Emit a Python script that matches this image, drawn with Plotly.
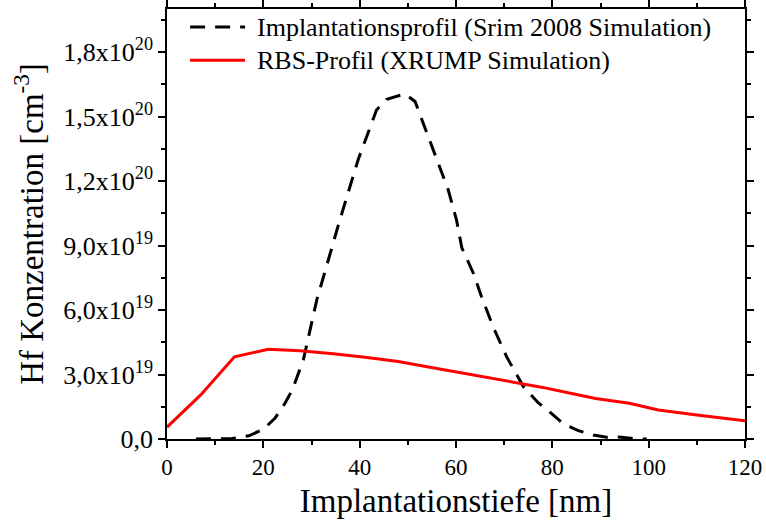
import plotly.graph_objects as go

# Implantation profile (SRIM 2008 simulation): depth [nm], Hf concentration [cm^-3]
srim_depth = [6, 10, 13.5, 17, 20, 22.4, 24.5, 26, 28.3, 31.1, 35.9, 39.7, 43.5, 45.6,
              49.4, 51.5, 55.3, 58.4, 60.1, 61.2, 63.6, 65.3, 67.7, 70.5, 74, 77, 79.5,
              82.3, 85.4, 88.5, 91.3, 93, 94.4, 97.5, 99.6]
srim_conc = [0, 0, 0.02e19, 0.15e19, 0.45e19, 0.96e19, 1.66e19, 2.28e19, 3.67e19, 6.47e19,
             1.02e20, 1.30e20, 1.53e20, 1.58e20, 1.605e20, 1.57e20, 1.344e20, 1.158e20,
             1.019e20, 0.89e20, 0.771e20, 0.662e20, 0.522e20, 0.383e20, 0.243e20, 0.17e20,
             0.125e20, 0.07e20, 0.039e20, 0.019e20, 0.008e20, 0.01e20, 0.008e20, 0.001e20, 0]

# RBS profile (XRUMP simulation)
rbs_depth = [0, 7, 14, 21, 27.6, 34.5, 41.1, 48, 54, 61, 67, 73.3, 78, 84, 89, 96, 102, 110, 120]
rbs_conc = [0.55e19, 2.05e19, 3.82e19, 4.17e19, 4.1e19, 3.97e19, 3.8e19, 3.6e19, 3.36e19,
            3.08e19, 2.83e19, 2.59e19, 2.4e19, 2.12e19, 1.88e19, 1.66e19, 1.35e19, 1.12e19,
            0.85e19]

y_tickvals = [0, 3e19, 6e19, 9e19, 1.2e20, 1.5e20, 1.8e20]
y_ticktext = ["0,0", "3,0x10<sup>19</sup>", "6,0x10<sup>19</sup>", "9,0x10<sup>19</sup>",
              "1,2x10<sup>20</sup>", "1,5x10<sup>20</sup>", "1,8x10<sup>20</sup>"]
x_tickvals = [0, 20, 40, 60, 80, 100, 120]

series_names = ["Implantationsprofil (Srim 2008 Simulation)", "RBS-Profil (XRUMP Simulation)"]
series_lines = [dict(color="black", width=3, dash="15px,10px"),
                dict(color="#ff0000", width=3)]

FONT = "Times New Roman, Liberation Serif, serif"

fig = go.Figure()
fig.add_trace(go.Scatter(x=srim_depth, y=srim_conc, mode="lines",
                         name=series_names[0], line=series_lines[0]))
fig.add_trace(go.Scatter(x=rbs_depth, y=rbs_conc, mode="lines",
                         name=series_names[1], line=series_lines[1]))

axis_common = dict(
    showline=True, linecolor="black", linewidth=1.5, mirror="ticks",
    ticks="outside", ticklen=7, tickwidth=1.5, tickcolor="black",
    showgrid=False, zeroline=False, automargin=False,
)

fig.update_xaxes(
    range=[0, 120], tickvals=x_tickvals,
    tickfont=dict(family=FONT, size=23, color="black"),
    title=dict(text="Implantationstiefe [nm]", font=dict(family=FONT, size=33, color="black"),
               standoff=10),
    minor=dict(ticks="outside", ticklen=4, tickwidth=1.5, tickcolor="black", dtick=10, tick0=0),
    **axis_common,
)
fig.update_yaxes(
    range=[0, 2.0e20], tickvals=y_tickvals, ticktext=y_ticktext,
    tickfont=dict(family=FONT, size=26, color="black"),
    title=dict(text="Hf Konzentration [cm<sup>-3</sup>]",
               font=dict(family=FONT, size=33, color="black"), standoff=10),
    minor=dict(ticks="outside", ticklen=4, tickwidth=1.5, tickcolor="black",
               dtick=1.5e19, tick0=0),
    **axis_common,
)

# Legend drawn as key lines plus text in the upper-left corner of the plot area
legend_rows_y = [0.958, 0.881]
for name, line, yy in zip(series_names, series_lines, legend_rows_y):
    fig.add_shape(type="line", xref="paper", yref="paper",
                  x0=0.040, x1=0.135, y0=yy, y1=yy, line=line)
    fig.add_annotation(xref="paper", yref="paper", x=0.152, y=yy, text=name,
                       showarrow=False, xanchor="left", yanchor="middle",
                       font=dict(family=FONT, size=26, color="black"))

fig.update_layout(
    width=766, height=527,
    margin=dict(l=167, r=21, t=9, b=88, autoexpand=False),
    paper_bgcolor="white", plot_bgcolor="white",
    font=dict(family=FONT, color="black"),
    showlegend=False,
)

fig.write_html("out.html")
